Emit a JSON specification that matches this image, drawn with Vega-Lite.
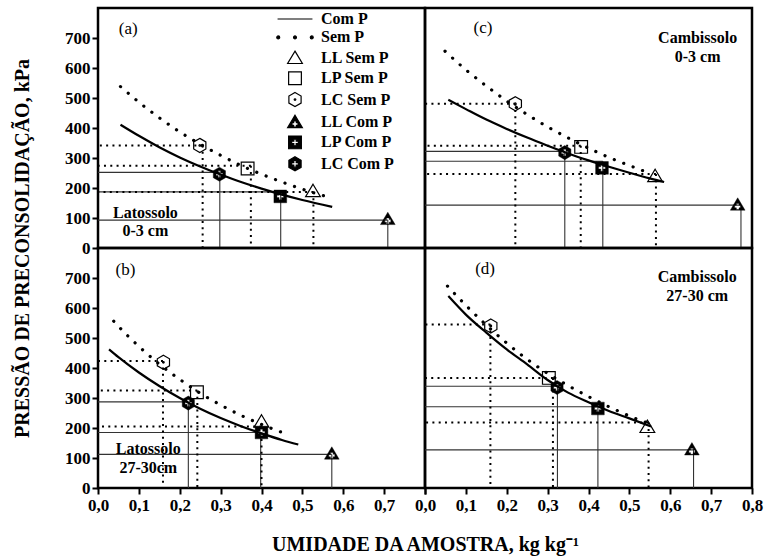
{
  "$schema": "https://vega.github.io/schema/vega-lite/v6.json",
  "autosize": {"type": "pad"},
  "padding": {"left": 10, "top": 6, "right": 0, "bottom": 0},
  "background": "white",
  "columns": 2,
  "spacing": 0,
  "bounds": "flush",
  "resolve": {"scale": {"shape": "independent", "fill": "independent", "stroke": "independent"}},
  "datasets": {
    "curves": [
      {"panel": "a", "series": "Com", "x": 0.055, "y": 411}, {"panel": "a", "series": "Com", "x": 0.1, "y": 374}, {"panel": "a", "series": "Com", "x": 0.15, "y": 336}, {"panel": "a", "series": "Com", "x": 0.2, "y": 302}, {"panel": "a", "series": "Com", "x": 0.25, "y": 272}, {"panel": "a", "series": "Com", "x": 0.3, "y": 245}, {"panel": "a", "series": "Com", "x": 0.35, "y": 220}, {"panel": "a", "series": "Com", "x": 0.4, "y": 198}, {"panel": "a", "series": "Com", "x": 0.45, "y": 178}, {"panel": "a", "series": "Com", "x": 0.5, "y": 160}, {"panel": "a", "series": "Com", "x": 0.573, "y": 137},
      {"panel": "a", "series": "Sem", "x": 0.055, "y": 538}, {"panel": "a", "series": "Sem", "x": 0.1, "y": 486}, {"panel": "a", "series": "Sem", "x": 0.15, "y": 434}, {"panel": "a", "series": "Sem", "x": 0.2, "y": 387}, {"panel": "a", "series": "Sem", "x": 0.25, "y": 346}, {"panel": "a", "series": "Sem", "x": 0.3, "y": 309}, {"panel": "a", "series": "Sem", "x": 0.35, "y": 275}, {"panel": "a", "series": "Sem", "x": 0.4, "y": 246}, {"panel": "a", "series": "Sem", "x": 0.45, "y": 220}, {"panel": "a", "series": "Sem", "x": 0.5, "y": 196}, {"panel": "a", "series": "Sem", "x": 0.56, "y": 171},
      {"panel": "b", "series": "Com", "x": 0.027, "y": 462}, {"panel": "b", "series": "Com", "x": 0.05, "y": 436}, {"panel": "b", "series": "Com", "x": 0.1, "y": 385}, {"panel": "b", "series": "Com", "x": 0.15, "y": 340}, {"panel": "b", "series": "Com", "x": 0.2, "y": 300}, {"panel": "b", "series": "Com", "x": 0.25, "y": 264}, {"panel": "b", "series": "Com", "x": 0.3, "y": 233}, {"panel": "b", "series": "Com", "x": 0.35, "y": 206}, {"panel": "b", "series": "Com", "x": 0.4, "y": 182}, {"panel": "b", "series": "Com", "x": 0.45, "y": 160}, {"panel": "b", "series": "Com", "x": 0.49, "y": 145},
      {"panel": "b", "series": "Sem", "x": 0.0385, "y": 556}, {"panel": "b", "series": "Sem", "x": 0.05, "y": 539}, {"panel": "b", "series": "Sem", "x": 0.1, "y": 472}, {"panel": "b", "series": "Sem", "x": 0.15, "y": 413}, {"panel": "b", "series": "Sem", "x": 0.2, "y": 362}, {"panel": "b", "series": "Sem", "x": 0.25, "y": 316}, {"panel": "b", "series": "Sem", "x": 0.3, "y": 277}, {"panel": "b", "series": "Sem", "x": 0.35, "y": 242}, {"panel": "b", "series": "Sem", "x": 0.4, "y": 212}, {"panel": "b", "series": "Sem", "x": 0.449, "y": 186},
      {"panel": "c", "series": "Com", "x": 0.057, "y": 494}, {"panel": "c", "series": "Com", "x": 0.1, "y": 463}, {"panel": "c", "series": "Com", "x": 0.15, "y": 428}, {"panel": "c", "series": "Com", "x": 0.2, "y": 397}, {"panel": "c", "series": "Com", "x": 0.25, "y": 368}, {"panel": "c", "series": "Com", "x": 0.3, "y": 341}, {"panel": "c", "series": "Com", "x": 0.35, "y": 315}, {"panel": "c", "series": "Com", "x": 0.4, "y": 292}, {"panel": "c", "series": "Com", "x": 0.45, "y": 271}, {"panel": "c", "series": "Com", "x": 0.5, "y": 251}, {"panel": "c", "series": "Com", "x": 0.55, "y": 232}, {"panel": "c", "series": "Com", "x": 0.585, "y": 220},
      {"panel": "c", "series": "Sem", "x": 0.049, "y": 656}, {"panel": "c", "series": "Sem", "x": 0.1, "y": 594}, {"panel": "c", "series": "Sem", "x": 0.15, "y": 540}, {"panel": "c", "series": "Sem", "x": 0.2, "y": 490}, {"panel": "c", "series": "Sem", "x": 0.25, "y": 445}, {"panel": "c", "series": "Sem", "x": 0.3, "y": 404}, {"panel": "c", "series": "Sem", "x": 0.35, "y": 367}, {"panel": "c", "series": "Sem", "x": 0.4, "y": 333}, {"panel": "c", "series": "Sem", "x": 0.45, "y": 302}, {"panel": "c", "series": "Sem", "x": 0.5, "y": 275}, {"panel": "c", "series": "Sem", "x": 0.54, "y": 254},
      {"panel": "d", "series": "Com", "x": 0.057, "y": 640}, {"panel": "d", "series": "Com", "x": 0.1, "y": 578}, {"panel": "d", "series": "Com", "x": 0.15, "y": 518}, {"panel": "d", "series": "Com", "x": 0.2, "y": 462}, {"panel": "d", "series": "Com", "x": 0.25, "y": 412}, {"panel": "d", "series": "Com", "x": 0.3, "y": 360}, {"panel": "d", "series": "Com", "x": 0.35, "y": 318}, {"panel": "d", "series": "Com", "x": 0.4, "y": 286}, {"panel": "d", "series": "Com", "x": 0.45, "y": 257}, {"panel": "d", "series": "Com", "x": 0.5, "y": 232}, {"panel": "d", "series": "Com", "x": 0.553, "y": 205},
      {"panel": "d", "series": "Sem", "x": 0.055, "y": 673}, {"panel": "d", "series": "Sem", "x": 0.1, "y": 609}, {"panel": "d", "series": "Sem", "x": 0.15, "y": 543}, {"panel": "d", "series": "Sem", "x": 0.194, "y": 490}, {"panel": "d", "series": "Sem", "x": 0.244, "y": 435}, {"panel": "d", "series": "Sem", "x": 0.3, "y": 382}, {"panel": "d", "series": "Sem", "x": 0.348, "y": 343}, {"panel": "d", "series": "Sem", "x": 0.404, "y": 302}, {"panel": "d", "series": "Sem", "x": 0.464, "y": 262}, {"panel": "d", "series": "Sem", "x": 0.522, "y": 228}, {"panel": "d", "series": "Sem", "x": 0.545, "y": 217}
    ],
    "guides": [
      {"panel": "a", "type": "Sem", "x": 0.256, "y": 342}, {"panel": "a", "type": "Sem", "x": 0.374, "y": 274}, {"panel": "a", "type": "Sem", "x": 0.527, "y": 187},
      {"panel": "a", "type": "Com", "x": 0.298, "y": 252}, {"panel": "a", "type": "Com", "x": 0.447, "y": 187}, {"panel": "a", "type": "Com", "x": 0.709, "y": 93},
      {"panel": "b", "type": "Sem", "x": 0.159, "y": 423}, {"panel": "b", "type": "Sem", "x": 0.243, "y": 325}, {"panel": "b", "type": "Sem", "x": 0.4, "y": 205},
      {"panel": "b", "type": "Com", "x": 0.221, "y": 287}, {"panel": "b", "type": "Com", "x": 0.398, "y": 185}, {"panel": "b", "type": "Com", "x": 0.572, "y": 112},
      {"panel": "c", "type": "Sem", "x": 0.221, "y": 481}, {"panel": "c", "type": "Sem", "x": 0.381, "y": 341}, {"panel": "c", "type": "Sem", "x": 0.565, "y": 247},
      {"panel": "c", "type": "Com", "x": 0.342, "y": 322}, {"panel": "c", "type": "Com", "x": 0.435, "y": 289}, {"panel": "c", "type": "Com", "x": 0.773, "y": 143},
      {"panel": "d", "type": "Sem", "x": 0.16, "y": 545}, {"panel": "d", "type": "Sem", "x": 0.313, "y": 367}, {"panel": "d", "type": "Sem", "x": 0.547, "y": 218},
      {"panel": "d", "type": "Com", "x": 0.324, "y": 339}, {"panel": "d", "type": "Com", "x": 0.423, "y": 271}, {"panel": "d", "type": "Com", "x": 0.657, "y": 127}
    ],
    "markers": [
      {"panel": "a", "series": "LC Sem P", "x": 0.249, "y": 342}, {"panel": "a", "series": "LP Sem P", "x": 0.366, "y": 265}, {"panel": "a", "series": "LL Sem P", "x": 0.526, "y": 190},
      {"panel": "a", "series": "LC Com P", "x": 0.297, "y": 246}, {"panel": "a", "series": "LP Com P", "x": 0.446, "y": 172}, {"panel": "a", "series": "LL Com P", "x": 0.709, "y": 97},
      {"panel": "b", "series": "LC Sem P", "x": 0.16, "y": 419}, {"panel": "b", "series": "LP Sem P", "x": 0.242, "y": 319}, {"panel": "b", "series": "LL Sem P", "x": 0.4, "y": 222},
      {"panel": "b", "series": "LC Com P", "x": 0.221, "y": 283}, {"panel": "b", "series": "LP Com P", "x": 0.4, "y": 185}, {"panel": "b", "series": "LL Com P", "x": 0.572, "y": 115},
      {"panel": "c", "series": "LC Sem P", "x": 0.221, "y": 481}, {"panel": "c", "series": "LP Sem P", "x": 0.382, "y": 337}, {"panel": "c", "series": "LL Sem P", "x": 0.563, "y": 240},
      {"panel": "c", "series": "LC Com P", "x": 0.342, "y": 318}, {"panel": "c", "series": "LP Com P", "x": 0.433, "y": 267}, {"panel": "c", "series": "LL Com P", "x": 0.765, "y": 145},
      {"panel": "d", "series": "LC Sem P", "x": 0.161, "y": 540}, {"panel": "d", "series": "LP Sem P", "x": 0.303, "y": 367}, {"panel": "d", "series": "LL Sem P", "x": 0.544, "y": 204},
      {"panel": "d", "series": "LC Com P", "x": 0.323, "y": 335}, {"panel": "d", "series": "LP Com P", "x": 0.423, "y": 265}, {"panel": "d", "series": "LL Com P", "x": 0.653, "y": 129}
    ],
    "labels": [
      {"panel": "a", "kind": "tag", "text": "(a)", "x": 0.074, "y": 730},
      {"panel": "b", "kind": "tag", "text": "(b)", "x": 0.067, "y": 727},
      {"panel": "c", "kind": "tag", "text": "(c)", "x": 0.142, "y": 733},
      {"panel": "d", "kind": "tag", "text": "(d)", "x": 0.147, "y": 730},
      {"panel": "a", "kind": "soil", "text": "Latossolo", "x": 0.116, "y": 117},
      {"panel": "a", "kind": "soil", "text": "0-3 cm", "x": 0.116, "y": 57},
      {"panel": "b", "kind": "soil", "text": "Latossolo", "x": 0.123, "y": 130},
      {"panel": "b", "kind": "soil", "text": "27-30cm", "x": 0.123, "y": 67},
      {"panel": "c", "kind": "soil", "text": "Cambissolo", "x": 0.667, "y": 700},
      {"panel": "c", "kind": "soil", "text": "0-3 cm", "x": 0.667, "y": 636},
      {"panel": "d", "kind": "soil", "text": "Cambissolo", "x": 0.666, "y": 703},
      {"panel": "d", "kind": "soil", "text": "27-30 cm", "x": 0.666, "y": 640}
    ]
  },
  "concat": [
    {
      "width": 327, "height": 240,
      "encoding": {
        "x": {"field": "x", "type": "quantitative", "scale": {"domain": [0, 0.8], "nice": false, "zero": false}, "axis": null},
        "y": {"field": "y", "type": "quantitative", "scale": {"domain": [0, 800], "nice": false}, "axis": {"values": [0, 100, 200, 300, 400, 500, 600, 700], "labelPadding": 2, "labelOverlap": false, "labelFlush": false, "title": "PRESSÃO DE PRECONSOLIDAÇÃO, kPa", "titleX": -76, "titleY": 240, "titleAngle": -90, "titleAlign": "center", "titleBaseline": "middle"}}
      },
      "layer": [
        {"data": {"name": "guides"}, "transform": [{"filter": "datum.panel == 'a' && datum.type == 'Com'"}], "mark": {"type": "rule", "stroke": "#333333", "strokeWidth": 1.1}, "encoding": {"x2": {"datum": 0}}},
        {"data": {"name": "guides"}, "transform": [{"filter": "datum.panel == 'a' && datum.type == 'Com'"}], "mark": {"type": "rule", "stroke": "#333333", "strokeWidth": 1.1}, "encoding": {"y2": {"datum": 0}}},
        {"data": {"name": "guides"}, "transform": [{"filter": "datum.panel == 'a' && datum.type == 'Sem'"}], "mark": {"type": "rule", "stroke": "black", "strokeWidth": 2, "strokeDash": [2, 4.3]}, "encoding": {"x2": {"datum": 0}}},
        {"data": {"name": "guides"}, "transform": [{"filter": "datum.panel == 'a' && datum.type == 'Sem'"}], "mark": {"type": "rule", "stroke": "black", "strokeWidth": 2, "strokeDash": [2, 4.3]}, "encoding": {"y2": {"datum": 0}}},
        {"data": {"name": "curves"}, "transform": [{"filter": "datum.panel == 'a' && datum.series == 'Com'"}], "mark": {"type": "line", "stroke": "black", "strokeWidth": 2.2, "interpolate": "monotone"}, "encoding": {}},
        {"data": {"name": "curves"}, "transform": [{"filter": "datum.panel == 'a' && datum.series == 'Sem'"}], "mark": {"type": "line", "stroke": "black", "strokeWidth": 3.2, "strokeCap": "round", "strokeDash": [0.1, 10], "interpolate": "monotone"}, "encoding": {}},
        {"data": {"name": "labels"}, "transform": [{"filter": "datum.panel == 'a' && datum.kind == 'tag'"}], "mark": {"type": "text", "font": "Liberation Serif", "fontSize": 17, "align": "center", "baseline": "middle", "color": "black"}, "encoding": {"text": {"field": "text"}}},
        {"data": {"name": "labels"}, "transform": [{"filter": "datum.panel == 'a' && datum.kind == 'soil'"}], "mark": {"type": "text", "font": "Liberation Serif", "fontSize": 16, "fontWeight": "bold", "align": "center", "baseline": "middle", "color": "black"}, "encoding": {"text": {"field": "text"}}},
        {"data": {"name": "markers"}, "transform": [{"filter": "datum.panel == 'a'"}], "mark": {"type": "point", "filled": true, "size": 180, "opacity": 1},
          "encoding": {
            "shape": {"field": "series", "type": "nominal", "scale": {"domain": ["Com P", "Sem P", "LL Sem P", "LP Sem P", "LC Sem P", "LL Com P", "LP Com P", "LC Com P"], "range": ["M-2.6,0H2.6", "M-2.28,0A0.22,0.22,0,1,1,-2.72,0A0.22,0.22,0,1,1,-2.28,0ZM0.22,0A0.22,0.22,0,1,1,-0.22,0A0.22,0.22,0,1,1,0.22,0ZM2.72,0A0.22,0.22,0,1,1,2.28,0A0.22,0.22,0,1,1,2.72,0Z", "M0,-1L1.1,0.85L-1.1,0.85Z", "M-0.95,-0.95H0.95V0.95H-0.95Z", "M0,-1.05L0.91,-0.525L0.91,0.525L0,1.05L-0.91,0.525L-0.91,-0.525ZM0.12,0A0.12,0.12,0,1,1,-0.12,0A0.12,0.12,0,1,1,0.12,0Z", "M0,-1L1.1,0.85L-1.1,0.85ZM-0.2,-0.15L-0.2,0.1L-0.45,0.1L-0.45,0.5L-0.2,0.5L-0.2,0.75L0.2,0.75L0.2,0.5L0.45,0.5L0.45,0.1L0.2,0.1L0.2,-0.15Z", "M-0.95,-0.95H0.95V0.95H-0.95ZM-0.18,-0.5L-0.18,-0.18L-0.5,-0.18L-0.5,0.18L-0.18,0.18L-0.18,0.5L0.18,0.5L0.18,0.18L0.5,0.18L0.5,-0.18L0.18,-0.18L0.18,-0.5Z", "M0,-1.05L0.91,-0.525L0.91,0.525L0,1.05L-0.91,0.525L-0.91,-0.525ZM-0.18,-0.5L-0.18,-0.18L-0.5,-0.18L-0.5,0.18L-0.18,0.18L-0.18,0.5L0.18,0.5L0.18,0.18L0.5,0.18L0.5,-0.18L0.18,-0.18L0.18,-0.5Z"]},
              "legend": {"orient": "none", "legendX": 189, "legendY": 3, "title": null, "padding": 0, "labelFont": "Liberation Serif", "labelFontWeight": "bold", "labelFontSize": 16, "labelColor": "black", "labelOffset": 18, "rowPadding": 2.4, "symbolSize": 180, "symbolStrokeWidth": 1.2, "encode": {"symbols": {"update": {"strokeWidth": {"signal": "datum.value == 'Com P' ? 1.8 : (indexof(datum.value, 'Com') >= 0 || datum.value == 'Sem P' ? 0 : 1.2)"}}}}}},
            "fill": {"field": "series", "type": "nominal", "scale": {"domain": ["Com P", "Sem P", "LL Sem P", "LP Sem P", "LC Sem P", "LL Com P", "LP Com P", "LC Com P"], "range": ["black", "black", "transparent", "transparent", "transparent", "black", "black", "black"]},
              "legend": {"orient": "none", "legendX": 189, "legendY": 3, "title": null, "padding": 0, "labelFont": "Liberation Serif", "labelFontWeight": "bold", "labelFontSize": 16, "labelColor": "black", "labelOffset": 18, "rowPadding": 2.4, "symbolSize": 180, "symbolStrokeWidth": 1.2, "encode": {"symbols": {"update": {"strokeWidth": {"signal": "datum.value == 'Com P' ? 1.8 : (indexof(datum.value, 'Com') >= 0 || datum.value == 'Sem P' ? 0 : 1.2)"}}}}}},
            "stroke": {"field": "series", "type": "nominal", "scale": {"domain": ["Com P", "Sem P", "LL Sem P", "LP Sem P", "LC Sem P", "LL Com P", "LP Com P", "LC Com P"], "range": ["black", "black", "black", "black", "black", "black", "black", "black"]},
              "legend": {"orient": "none", "legendX": 189, "legendY": 3, "title": null, "padding": 0, "labelFont": "Liberation Serif", "labelFontWeight": "bold", "labelFontSize": 16, "labelColor": "black", "labelOffset": 18, "rowPadding": 2.4, "symbolSize": 180, "symbolStrokeWidth": 1.2, "encode": {"symbols": {"update": {"strokeWidth": {"signal": "datum.value == 'Com P' ? 1.8 : (indexof(datum.value, 'Com') >= 0 || datum.value == 'Sem P' ? 0 : 1.2)"}}}}}},
            "strokeWidth": {"condition": {"test": "indexof(datum.series, 'Com') >= 0", "value": 0.4}, "value": 1.2}
          }
        }
      ]
    },
    {
      "width": 327, "height": 240,
      "encoding": {
        "x": {"field": "x", "type": "quantitative", "scale": {"domain": [0, 0.8], "nice": false, "zero": false}, "axis": null},
        "y": {"field": "y", "type": "quantitative", "scale": {"domain": [0, 800], "nice": false}, "axis": null}
      },
      "layer": [
        {"data": {"name": "guides"}, "transform": [{"filter": "datum.panel == 'c' && datum.type == 'Com'"}], "mark": {"type": "rule", "stroke": "#333333", "strokeWidth": 1.1}, "encoding": {"x2": {"datum": 0}}},
        {"data": {"name": "guides"}, "transform": [{"filter": "datum.panel == 'c' && datum.type == 'Com'"}], "mark": {"type": "rule", "stroke": "#333333", "strokeWidth": 1.1}, "encoding": {"y2": {"datum": 0}}},
        {"data": {"name": "guides"}, "transform": [{"filter": "datum.panel == 'c' && datum.type == 'Sem'"}], "mark": {"type": "rule", "stroke": "black", "strokeWidth": 2, "strokeDash": [2, 4.3]}, "encoding": {"x2": {"datum": 0}}},
        {"data": {"name": "guides"}, "transform": [{"filter": "datum.panel == 'c' && datum.type == 'Sem'"}], "mark": {"type": "rule", "stroke": "black", "strokeWidth": 2, "strokeDash": [2, 4.3]}, "encoding": {"y2": {"datum": 0}}},
        {"data": {"name": "curves"}, "transform": [{"filter": "datum.panel == 'c' && datum.series == 'Com'"}], "mark": {"type": "line", "stroke": "black", "strokeWidth": 2.2, "interpolate": "monotone"}, "encoding": {}},
        {"data": {"name": "curves"}, "transform": [{"filter": "datum.panel == 'c' && datum.series == 'Sem'"}], "mark": {"type": "line", "stroke": "black", "strokeWidth": 3.2, "strokeCap": "round", "strokeDash": [0.1, 10], "interpolate": "monotone"}, "encoding": {}},
        {"data": {"name": "labels"}, "transform": [{"filter": "datum.panel == 'c' && datum.kind == 'tag'"}], "mark": {"type": "text", "font": "Liberation Serif", "fontSize": 17, "align": "center", "baseline": "middle", "color": "black"}, "encoding": {"text": {"field": "text"}}},
        {"data": {"name": "labels"}, "transform": [{"filter": "datum.panel == 'c' && datum.kind == 'soil'"}], "mark": {"type": "text", "font": "Liberation Serif", "fontSize": 16, "fontWeight": "bold", "align": "center", "baseline": "middle", "color": "black"}, "encoding": {"text": {"field": "text"}}},
        {"data": {"name": "markers"}, "transform": [{"filter": "datum.panel == 'c'"}], "mark": {"type": "point", "filled": true, "stroke": "black", "size": 180, "opacity": 1},
          "encoding": {
            "shape": {"field": "series", "type": "nominal", "scale": {"domain": ["Com P", "Sem P", "LL Sem P", "LP Sem P", "LC Sem P", "LL Com P", "LP Com P", "LC Com P"], "range": ["M-2.6,0H2.6", "M-2.28,0A0.22,0.22,0,1,1,-2.72,0A0.22,0.22,0,1,1,-2.28,0ZM0.22,0A0.22,0.22,0,1,1,-0.22,0A0.22,0.22,0,1,1,0.22,0ZM2.72,0A0.22,0.22,0,1,1,2.28,0A0.22,0.22,0,1,1,2.72,0Z", "M0,-1L1.1,0.85L-1.1,0.85Z", "M-0.95,-0.95H0.95V0.95H-0.95Z", "M0,-1.05L0.91,-0.525L0.91,0.525L0,1.05L-0.91,0.525L-0.91,-0.525ZM0.12,0A0.12,0.12,0,1,1,-0.12,0A0.12,0.12,0,1,1,0.12,0Z", "M0,-1L1.1,0.85L-1.1,0.85ZM-0.2,-0.15L-0.2,0.1L-0.45,0.1L-0.45,0.5L-0.2,0.5L-0.2,0.75L0.2,0.75L0.2,0.5L0.45,0.5L0.45,0.1L0.2,0.1L0.2,-0.15Z", "M-0.95,-0.95H0.95V0.95H-0.95ZM-0.18,-0.5L-0.18,-0.18L-0.5,-0.18L-0.5,0.18L-0.18,0.18L-0.18,0.5L0.18,0.5L0.18,0.18L0.5,0.18L0.5,-0.18L0.18,-0.18L0.18,-0.5Z", "M0,-1.05L0.91,-0.525L0.91,0.525L0,1.05L-0.91,0.525L-0.91,-0.525ZM-0.18,-0.5L-0.18,-0.18L-0.5,-0.18L-0.5,0.18L-0.18,0.18L-0.18,0.5L0.18,0.5L0.18,0.18L0.5,0.18L0.5,-0.18L0.18,-0.18L0.18,-0.5Z"]}, "legend": null},
            "fill": {"field": "series", "type": "nominal", "scale": {"domain": ["Com P", "Sem P", "LL Sem P", "LP Sem P", "LC Sem P", "LL Com P", "LP Com P", "LC Com P"], "range": ["black", "black", "transparent", "transparent", "transparent", "black", "black", "black"]}, "legend": null},
            "strokeWidth": {"condition": {"test": "indexof(datum.series, 'Com') >= 0", "value": 0.4}, "value": 1.2}
          }
        }
      ]
    },
    {
      "width": 327, "height": 240,
      "encoding": {
        "x": {"field": "x", "type": "quantitative", "scale": {"domain": [0, 0.8], "nice": false, "zero": false}, "axis": {"values": [0, 0.1, 0.2, 0.3, 0.4, 0.5, 0.6, 0.7, 0.8], "labelExpr": "datum.value > 0.75 ? '' : replace(format(datum.value, '.1f'), '.', ',')", "labelPadding": 3, "labelFlush": false, "labelOverlap": false, "title": "UMIDADE DA AMOSTRA, kg kg⁻¹", "titleX": 327, "titleY": 62, "titleAlign": "center", "titleBaseline": "alphabetic"}},
        "y": {"field": "y", "type": "quantitative", "scale": {"domain": [0, 800], "nice": false}, "axis": {"values": [0, 100, 200, 300, 400, 500, 600, 700], "labelPadding": 2, "labelOverlap": false, "labelFlush": false, "title": null}}
      },
      "layer": [
        {"data": {"name": "guides"}, "transform": [{"filter": "datum.panel == 'b' && datum.type == 'Com'"}], "mark": {"type": "rule", "stroke": "#333333", "strokeWidth": 1.1}, "encoding": {"x2": {"datum": 0}}},
        {"data": {"name": "guides"}, "transform": [{"filter": "datum.panel == 'b' && datum.type == 'Com'"}], "mark": {"type": "rule", "stroke": "#333333", "strokeWidth": 1.1}, "encoding": {"y2": {"datum": 0}}},
        {"data": {"name": "guides"}, "transform": [{"filter": "datum.panel == 'b' && datum.type == 'Sem'"}], "mark": {"type": "rule", "stroke": "black", "strokeWidth": 2, "strokeDash": [2, 4.3]}, "encoding": {"x2": {"datum": 0}}},
        {"data": {"name": "guides"}, "transform": [{"filter": "datum.panel == 'b' && datum.type == 'Sem'"}], "mark": {"type": "rule", "stroke": "black", "strokeWidth": 2, "strokeDash": [2, 4.3]}, "encoding": {"y2": {"datum": 0}}},
        {"data": {"name": "curves"}, "transform": [{"filter": "datum.panel == 'b' && datum.series == 'Com'"}], "mark": {"type": "line", "stroke": "black", "strokeWidth": 2.2, "interpolate": "monotone"}, "encoding": {}},
        {"data": {"name": "curves"}, "transform": [{"filter": "datum.panel == 'b' && datum.series == 'Sem'"}], "mark": {"type": "line", "stroke": "black", "strokeWidth": 3.2, "strokeCap": "round", "strokeDash": [0.1, 10], "interpolate": "monotone"}, "encoding": {}},
        {"data": {"name": "labels"}, "transform": [{"filter": "datum.panel == 'b' && datum.kind == 'tag'"}], "mark": {"type": "text", "font": "Liberation Serif", "fontSize": 17, "align": "center", "baseline": "middle", "color": "black"}, "encoding": {"text": {"field": "text"}}},
        {"data": {"name": "labels"}, "transform": [{"filter": "datum.panel == 'b' && datum.kind == 'soil'"}], "mark": {"type": "text", "font": "Liberation Serif", "fontSize": 16, "fontWeight": "bold", "align": "center", "baseline": "middle", "color": "black"}, "encoding": {"text": {"field": "text"}}},
        {"data": {"name": "markers"}, "transform": [{"filter": "datum.panel == 'b'"}], "mark": {"type": "point", "filled": true, "stroke": "black", "size": 180, "opacity": 1},
          "encoding": {
            "shape": {"field": "series", "type": "nominal", "scale": {"domain": ["Com P", "Sem P", "LL Sem P", "LP Sem P", "LC Sem P", "LL Com P", "LP Com P", "LC Com P"], "range": ["M-2.6,0H2.6", "M-2.28,0A0.22,0.22,0,1,1,-2.72,0A0.22,0.22,0,1,1,-2.28,0ZM0.22,0A0.22,0.22,0,1,1,-0.22,0A0.22,0.22,0,1,1,0.22,0ZM2.72,0A0.22,0.22,0,1,1,2.28,0A0.22,0.22,0,1,1,2.72,0Z", "M0,-1L1.1,0.85L-1.1,0.85Z", "M-0.95,-0.95H0.95V0.95H-0.95Z", "M0,-1.05L0.91,-0.525L0.91,0.525L0,1.05L-0.91,0.525L-0.91,-0.525ZM0.12,0A0.12,0.12,0,1,1,-0.12,0A0.12,0.12,0,1,1,0.12,0Z", "M0,-1L1.1,0.85L-1.1,0.85ZM-0.2,-0.15L-0.2,0.1L-0.45,0.1L-0.45,0.5L-0.2,0.5L-0.2,0.75L0.2,0.75L0.2,0.5L0.45,0.5L0.45,0.1L0.2,0.1L0.2,-0.15Z", "M-0.95,-0.95H0.95V0.95H-0.95ZM-0.18,-0.5L-0.18,-0.18L-0.5,-0.18L-0.5,0.18L-0.18,0.18L-0.18,0.5L0.18,0.5L0.18,0.18L0.5,0.18L0.5,-0.18L0.18,-0.18L0.18,-0.5Z", "M0,-1.05L0.91,-0.525L0.91,0.525L0,1.05L-0.91,0.525L-0.91,-0.525ZM-0.18,-0.5L-0.18,-0.18L-0.5,-0.18L-0.5,0.18L-0.18,0.18L-0.18,0.5L0.18,0.5L0.18,0.18L0.5,0.18L0.5,-0.18L0.18,-0.18L0.18,-0.5Z"]}, "legend": null},
            "fill": {"field": "series", "type": "nominal", "scale": {"domain": ["Com P", "Sem P", "LL Sem P", "LP Sem P", "LC Sem P", "LL Com P", "LP Com P", "LC Com P"], "range": ["black", "black", "transparent", "transparent", "transparent", "black", "black", "black"]}, "legend": null},
            "strokeWidth": {"condition": {"test": "indexof(datum.series, 'Com') >= 0", "value": 0.4}, "value": 1.2}
          }
        }
      ]
    },
    {
      "width": 327, "height": 240,
      "encoding": {
        "x": {"field": "x", "type": "quantitative", "scale": {"domain": [0, 0.8], "nice": false, "zero": false}, "axis": {"values": [0, 0.1, 0.2, 0.3, 0.4, 0.5, 0.6, 0.7, 0.8], "labelExpr": "replace(format(datum.value, '.1f'), '.', ',')", "labelPadding": 3, "labelFlush": false, "labelOverlap": false, "title": null}},
        "y": {"field": "y", "type": "quantitative", "scale": {"domain": [0, 800], "nice": false}, "axis": null}
      },
      "layer": [
        {"data": {"name": "guides"}, "transform": [{"filter": "datum.panel == 'd' && datum.type == 'Com'"}], "mark": {"type": "rule", "stroke": "#333333", "strokeWidth": 1.1}, "encoding": {"x2": {"datum": 0}}},
        {"data": {"name": "guides"}, "transform": [{"filter": "datum.panel == 'd' && datum.type == 'Com'"}], "mark": {"type": "rule", "stroke": "#333333", "strokeWidth": 1.1}, "encoding": {"y2": {"datum": 0}}},
        {"data": {"name": "guides"}, "transform": [{"filter": "datum.panel == 'd' && datum.type == 'Sem'"}], "mark": {"type": "rule", "stroke": "black", "strokeWidth": 2, "strokeDash": [2, 4.3]}, "encoding": {"x2": {"datum": 0}}},
        {"data": {"name": "guides"}, "transform": [{"filter": "datum.panel == 'd' && datum.type == 'Sem'"}], "mark": {"type": "rule", "stroke": "black", "strokeWidth": 2, "strokeDash": [2, 4.3]}, "encoding": {"y2": {"datum": 0}}},
        {"data": {"name": "curves"}, "transform": [{"filter": "datum.panel == 'd' && datum.series == 'Com'"}], "mark": {"type": "line", "stroke": "black", "strokeWidth": 2.2, "interpolate": "monotone"}, "encoding": {}},
        {"data": {"name": "curves"}, "transform": [{"filter": "datum.panel == 'd' && datum.series == 'Sem'"}], "mark": {"type": "line", "stroke": "black", "strokeWidth": 3.2, "strokeCap": "round", "strokeDash": [0.1, 10], "interpolate": "monotone"}, "encoding": {}},
        {"data": {"name": "labels"}, "transform": [{"filter": "datum.panel == 'd' && datum.kind == 'tag'"}], "mark": {"type": "text", "font": "Liberation Serif", "fontSize": 17, "align": "center", "baseline": "middle", "color": "black"}, "encoding": {"text": {"field": "text"}}},
        {"data": {"name": "labels"}, "transform": [{"filter": "datum.panel == 'd' && datum.kind == 'soil'"}], "mark": {"type": "text", "font": "Liberation Serif", "fontSize": 16, "fontWeight": "bold", "align": "center", "baseline": "middle", "color": "black"}, "encoding": {"text": {"field": "text"}}},
        {"data": {"name": "markers"}, "transform": [{"filter": "datum.panel == 'd'"}], "mark": {"type": "point", "filled": true, "stroke": "black", "size": 180, "opacity": 1},
          "encoding": {
            "shape": {"field": "series", "type": "nominal", "scale": {"domain": ["Com P", "Sem P", "LL Sem P", "LP Sem P", "LC Sem P", "LL Com P", "LP Com P", "LC Com P"], "range": ["M-2.6,0H2.6", "M-2.28,0A0.22,0.22,0,1,1,-2.72,0A0.22,0.22,0,1,1,-2.28,0ZM0.22,0A0.22,0.22,0,1,1,-0.22,0A0.22,0.22,0,1,1,0.22,0ZM2.72,0A0.22,0.22,0,1,1,2.28,0A0.22,0.22,0,1,1,2.72,0Z", "M0,-1L1.1,0.85L-1.1,0.85Z", "M-0.95,-0.95H0.95V0.95H-0.95Z", "M0,-1.05L0.91,-0.525L0.91,0.525L0,1.05L-0.91,0.525L-0.91,-0.525ZM0.12,0A0.12,0.12,0,1,1,-0.12,0A0.12,0.12,0,1,1,0.12,0Z", "M0,-1L1.1,0.85L-1.1,0.85ZM-0.2,-0.15L-0.2,0.1L-0.45,0.1L-0.45,0.5L-0.2,0.5L-0.2,0.75L0.2,0.75L0.2,0.5L0.45,0.5L0.45,0.1L0.2,0.1L0.2,-0.15Z", "M-0.95,-0.95H0.95V0.95H-0.95ZM-0.18,-0.5L-0.18,-0.18L-0.5,-0.18L-0.5,0.18L-0.18,0.18L-0.18,0.5L0.18,0.5L0.18,0.18L0.5,0.18L0.5,-0.18L0.18,-0.18L0.18,-0.5Z", "M0,-1.05L0.91,-0.525L0.91,0.525L0,1.05L-0.91,0.525L-0.91,-0.525ZM-0.18,-0.5L-0.18,-0.18L-0.5,-0.18L-0.5,0.18L-0.18,0.18L-0.18,0.5L0.18,0.5L0.18,0.18L0.5,0.18L0.5,-0.18L0.18,-0.18L0.18,-0.5Z"]}, "legend": null},
            "fill": {"field": "series", "type": "nominal", "scale": {"domain": ["Com P", "Sem P", "LL Sem P", "LP Sem P", "LC Sem P", "LL Com P", "LP Com P", "LC Com P"], "range": ["black", "black", "transparent", "transparent", "transparent", "black", "black", "black"]}, "legend": null},
            "strokeWidth": {"condition": {"test": "indexof(datum.series, 'Com') >= 0", "value": 0.4}, "value": 1.2}
          }
        }
      ]
    }
  ],
  "config": {
    "font": "Liberation Serif",
    "view": {"stroke": "black", "strokeWidth": 2.5},
    "axis": {"grid": false, "domain": false, "ticks": true, "tickColor": "black", "tickWidth": 2, "tickSize": 6, "labelFont": "Liberation Serif", "labelFontWeight": "bold", "labelFontSize": 17, "labelColor": "black", "titleFont": "Liberation Serif", "titleFontWeight": "bold", "titleFontSize": 20, "titleColor": "black"}
  }
}
